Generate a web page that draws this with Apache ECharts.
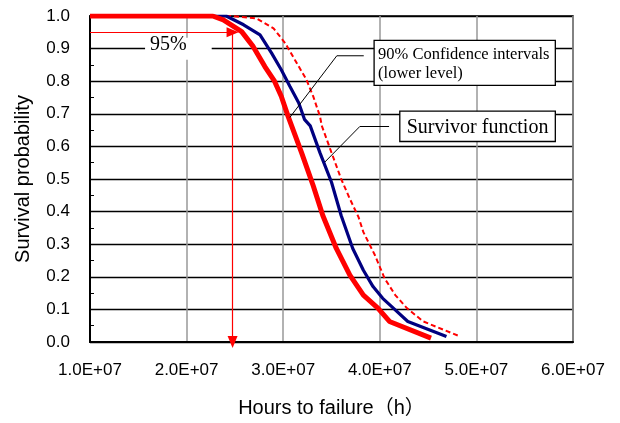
<!DOCTYPE html>
<html><head><meta charset="utf-8">
<script src="https://cdn.jsdelivr.net/npm/echarts@6/dist/echarts.min.js"></script>
<style>html,body{margin:0;padding:0;background:#fff}#c{width:620px;height:423px}</style>
</head><body><div id="c"></div>
<script>
// ---- data ----
const lowerX = [1.0e7, 2.27e7, 2.38e7, 2.57e7, 2.69e7, 2.81e7, 2.91e7, 2.98e7, 3.05e7, 3.19e7, 3.31e7, 3.41e7, 3.55e7, 3.69e7, 3.83e7, 3.98e7, 4.10e7, 4.53e7];
const lowerY = [1.0, 1.0, 0.988, 0.952, 0.906, 0.845, 0.800, 0.754, 0.693, 0.581, 0.480, 0.388, 0.287, 0.205, 0.144, 0.104, 0.063, 0.012];
const survX = [1.0e7, 2.41e7, 2.59e7, 2.76e7, 2.88e7, 2.98e7, 3.07e7, 3.16e7, 3.22e7, 3.28e7, 3.38e7, 3.50e7, 3.60e7, 3.72e7, 3.83e7, 3.93e7, 4.03e7, 4.14e7, 4.29e7, 4.69e7];
const survY = [1.0, 1.0, 0.973, 0.942, 0.886, 0.835, 0.784, 0.734, 0.683, 0.663, 0.581, 0.490, 0.388, 0.287, 0.220, 0.170, 0.134, 0.104, 0.063, 0.017];
const upperX = [1.0e7, 2.45e7, 2.72e7, 2.90e7, 3.02e7, 3.12e7, 3.24e7, 3.31e7, 3.38e7, 3.40e7, 3.50e7, 3.60e7, 3.69e7, 3.78e7, 3.83e7, 3.95e7, 4.05e7, 4.16e7, 4.28e7, 4.45e7, 4.83e7];
const upperY = [1.0, 1.0, 0.993, 0.962, 0.917, 0.866, 0.805, 0.754, 0.693, 0.663, 0.581, 0.500, 0.439, 0.383, 0.337, 0.266, 0.195, 0.144, 0.104, 0.063, 0.017];
const xTickLabels = ['1.0E+07','2.0E+07','3.0E+07','4.0E+07','5.0E+07','6.0E+07'];
const pctLevel = 0.95;
const pctTime = 2.476e7;
const pctText = '95%';
const ciLabel = '90% Confidence intervals\n(lower level)';
const survLabel = 'Survivor function';
const ciLeader = [[3.834e7, 0.878], [3.555e7, 0.878], [3.069e7, 0.689]];
const survLeader = [[4.096e7, 0.661], [3.793e7, 0.661], [3.431e7, 0.552]];

const zip = (xs, ys) => xs.map((x, i) => [x, ys[i]]);
const sans = '"Liberation Sans", Arial, "Noto Sans CJK JP", sans-serif';
const serif = '"Liberation Serif", "Times New Roman", serif';

const chart = echarts.init(document.getElementById('c'), null, {renderer: 'canvas'});
const option = {
  animation: false,
  grid: {left: 90, right: 47, top: 16, bottom: 79, show: true, borderColor: '#000', borderWidth: 1.5},
  xAxis: {
    type: 'value', min: 1e7, max: 6e7, interval: 1e7,
    name: 'Hours to failure（h）', nameLocation: 'middle', nameGap: 56,
    nameTextStyle: {fontFamily: sans, fontSize: 20, color: '#000'},
    axisLine: {show: true, onZero: false, lineStyle: {color: '#000', width: 2}},
    axisTick: {show: false},
    axisLabel: {margin: 20, fontFamily: sans, fontSize: 17, color: '#000',
      formatter: v => xTickLabels[Math.round((v - 1e7) / 1e7)] || ''},
    splitLine: {show: true, lineStyle: {color: '#999', width: 1.5}}
  },
  yAxis: {
    type: 'value', min: 0, max: 1, interval: 0.1,
    name: 'Survival probability', nameLocation: 'middle', nameGap: 57,
    nameTextStyle: {fontFamily: sans, fontSize: 20, color: '#000'},
    axisLine: {show: true, lineStyle: {color: '#000', width: 2}},
    axisTick: {show: true, inside: true, length: 4, lineStyle: {color: '#000'}},
    minorTick: {show: true, splitNumber: 2, length: 4, lineStyle: {color: '#000', width: 1}},
    axisLabel: {margin: 20, fontFamily: sans, fontSize: 17, color: '#000', formatter: v => v.toFixed(1)},
    splitLine: {show: true, lineStyle: {color: '#000', width: 1.3}}
  },
  series: [
    {type: 'line', data: zip(upperX, upperY), symbol: 'none', z: 3,
      lineStyle: {color: '#ff0000', width: 2, type: [5, 3]}},
    {type: 'line', data: zip(survX, survY), symbol: 'none', z: 4,
      lineStyle: {color: '#000080', width: 3.2}},
    {type: 'line', data: zip(lowerX, lowerY), symbol: 'none', z: 5,
      lineStyle: {color: '#ff0000', width: 5}},
    {type: 'line', data: ciLeader, symbol: 'none', z: 6, lineStyle: {color: '#000', width: 1}},
    {type: 'line', data: survLeader, symbol: 'none', z: 6, lineStyle: {color: '#000', width: 1}},
    {type: 'line', data: [], z: 7,
      markLine: {
        silent: true, symbol: ['none', 'triangle'], symbolSize: [10, 12],
        label: {show: false},
        lineStyle: {color: '#ff0000', width: 1.2, type: 'solid'},
        data: [
          [{coord: [1e7, pctLevel]}, {coord: [pctTime, pctLevel]}],
          [{coord: [pctTime, pctLevel]}, {coord: [pctTime, 0]}]
        ]
      }}
  ]
};
chart.setOption(option);

function px(p) { return chart.convertToPixel({gridIndex: 0}, p); }
const boxA = px([1.57e7, 0.933]);
const boxB = px([2.26e7, 0.866]);
const pctPos = px([1.81e7, 0.913]);
const ciPos = px([3.941e7, 0.925]);
const ciEnd = px([5.817e7, 0.787]);
const svPos = px([4.207e7, 0.708]);
const svEnd = px([5.817e7, 0.615]);
chart.setOption({
  graphic: [
    {type: 'rect', shape: {x: boxA[0], y: boxA[1], width: boxB[0] - boxA[0], height: boxB[1] - boxA[1]}, style: {fill: '#fff'}, z: 10},
    {type: 'text', x: pctPos[0], y: pctPos[1], z: 11,
      style: {text: pctText, font: '20px ' + serif, fill: '#000', align: 'center', verticalAlign: 'middle'}},
    {type: 'rect', shape: {x: ciPos[0], y: ciPos[1], width: ciEnd[0] - ciPos[0], height: ciEnd[1] - ciPos[1]},
      style: {fill: '#fff', stroke: '#000', lineWidth: 1.3}, z: 10},
    {type: 'text', x: ciPos[0] + 4, y: (ciPos[1] + ciEnd[1]) / 2 + 1, z: 11,
      style: {text: ciLabel, font: '16.5px ' + serif, fill: '#000', align: 'left', verticalAlign: 'middle', lineHeight: 19}},
    {type: 'rect', shape: {x: svPos[0], y: svPos[1], width: svEnd[0] - svPos[0], height: svEnd[1] - svPos[1]},
      style: {fill: '#fff', stroke: '#000', lineWidth: 1.3}, z: 10},
    {type: 'text', x: (svPos[0] + svEnd[0]) / 2, y: (svPos[1] + svEnd[1]) / 2 + 1, z: 11,
      style: {text: survLabel, font: '20px ' + serif, fill: '#000', align: 'center', verticalAlign: 'middle'}}
  ]
});
</script></body></html>
